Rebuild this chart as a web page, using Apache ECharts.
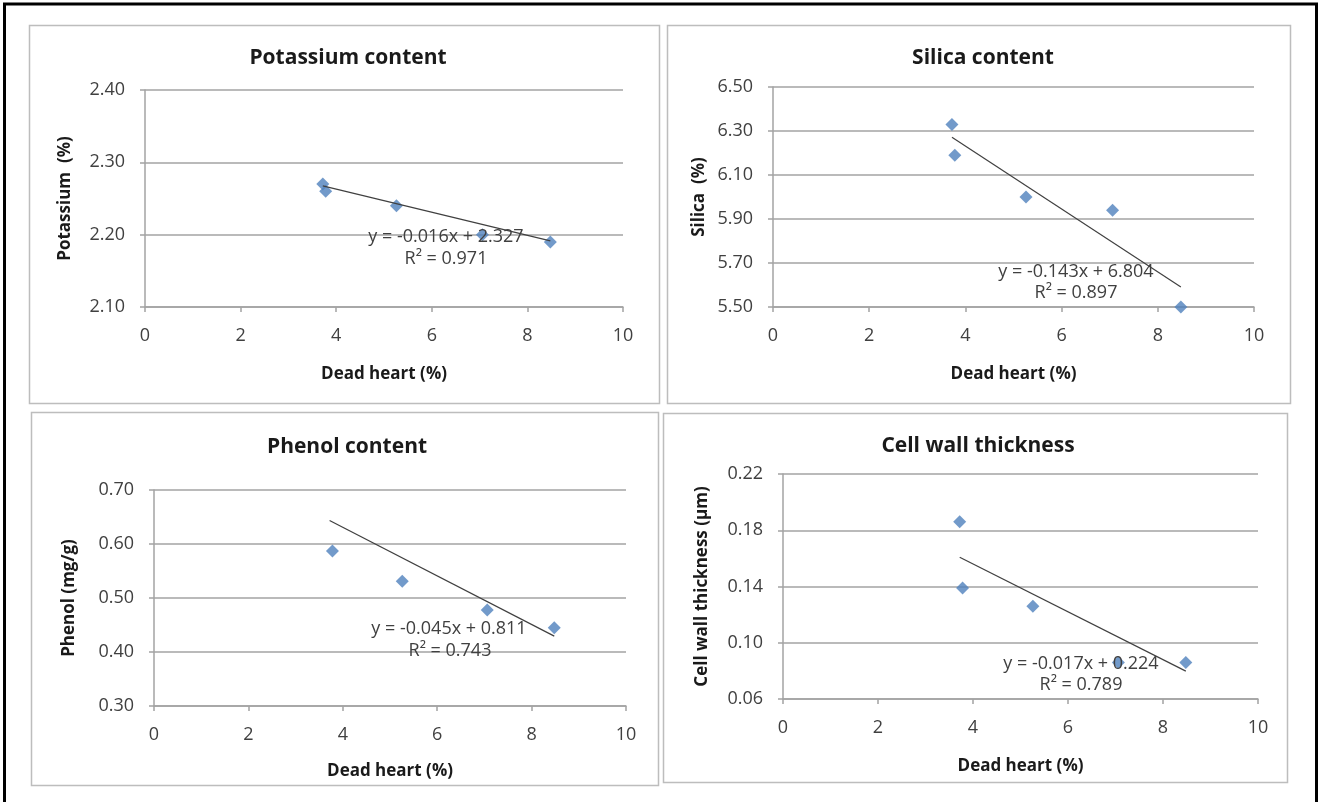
<!DOCTYPE html>
<html>
<head>
<meta charset="utf-8">
<script src="https://cdn.jsdelivr.net/npm/echarts@6/dist/echarts.min.js"></script>
<style>
html,body{margin:0;padding:0;background:#fff;}
#chart{width:1320px;height:802px;}
</style>
</head>
<body>
<div id="chart"></div>
<script>
// ---- data ----
const deadHeart = [3.72, 3.78, 5.26, 7.06, 8.48];
const potassium = [2.27, 2.26, 2.24, 2.20, 2.19];
const silica = [6.33, 6.19, 6.00, 5.94, 5.50];
const phenolX = [3.78, 5.26, 7.06, 8.48];
const phenol = [0.587, 0.531, 0.478, 0.445];
const cellWall = [0.186, 0.139, 0.126, 0.086, 0.086];

const titles = ['Potassium content', 'Silica content', 'Phenol content', 'Cell wall thickness'];
const yNames = ['Potassium  (%)', 'Silica  (%)', 'Phenol (mg/g)', 'Cell wall thickness (\u00b5m)'];
const xName = 'Dead heart (%)';
const slopes = [-0.016, -0.143, -0.045, -0.017];
const intercepts = [2.327, 6.804, 0.811, 0.224];
const r2 = ['0.971', '0.897', '0.743', '0.789'];
const eqText = ['y = -0.016x + 2.327', 'y = -0.143x + 6.804', 'y = -0.045x + 0.811', 'y = -0.017x + 0.224'];
const yMin = [2.10, 5.50, 0.30, 0.06];
const yMax = [2.40, 6.50, 0.70, 0.22];
const yStep = [0.10, 0.20, 0.10, 0.04];
const xMin = 0, xMax = 10, xStep = 2;

// ---- layout ----
const FONT = 'Open Sans';
const layout = [
  {box:[29,25,630,378], grid:{left:145,top:90,width:478,height:217}, title:[343,53], eq:[446,237], r2:[446,259], yGap:71, xGap:59},
  {box:[667,25,623,378], grid:{left:773,top:87,width:481,height:220}, title:[978,53], eq:[1076,272], r2:[1076,293], yGap:65, xGap:59},
  {box:[31,412,627,373], grid:{left:154,top:490,width:472,height:216}, title:[342,442], eq:[449,629], r2:[450,651], yGap:76, xGap:57},
  {box:[663,413,624,369], grid:{left:783,top:474,width:475,height:225}, title:[973,441], eq:[1081,664], r2:[1081,685], yGap:72, xGap:59}
];

const xsList = [deadHeart, deadHeart, phenolX, deadHeart];
const ysList = [potassium, silica, phenol, cellWall];
const trendX = [Math.min(...deadHeart), Math.max(...deadHeart)];

const grids = [], xAxes = [], yAxes = [], series = [], titleOpts = [], graphics = [];
const axisColor = '#a3a3a3';

// outer black frame
graphics.push({type:'rect', z:-20, shape:{x:4.5,y:4,width:1312,height:820}, style:{fill:'#fff', stroke:'#000', lineWidth:3}});

layout.forEach((L, i) => {
  graphics.push({type:'rect', z:-10, shape:{x:L.box[0]+0.5,y:L.box[1]+0.5,width:L.box[2],height:L.box[3]}, style:{fill:'#fff', stroke:'#bdbdbd', lineWidth:1.5}});
  grids.push(Object.assign({containLabel:false}, L.grid));
  titleOpts.push({text:titles[i], left:L.title[0], top:L.title[1], textAlign:'center', textVerticalAlign:'middle',
    textStyle:{fontFamily:FONT, fontWeight:'bold', fontSize:21, color:'#1a1a1a'}});
  xAxes.push({type:'value', gridIndex:i, min:xMin, max:xMax, interval:xStep,
    name:xName, nameLocation:'middle', nameGap:L.xGap,
    nameTextStyle:{fontFamily:FONT, fontWeight:'bold', fontSize:17, color:'#1a1a1a'},
    axisLine:{show:true, lineStyle:{color:axisColor, width:1.5}},
    axisTick:{show:true, inside:false, length:5, lineStyle:{color:axisColor, width:1.5}},
    axisLabel:{fontFamily:FONT, fontSize:18, color:'#404040', margin:20},
    splitLine:{show:false}});
  yAxes.push({type:'value', gridIndex:i, min:yMin[i], max:yMax[i], interval:yStep[i],
    name:yNames[i], nameLocation:'middle', nameGap:L.yGap, nameRotate:90,
    nameTextStyle:{fontFamily:FONT, fontWeight:'bold', fontSize:17, color:'#1a1a1a'},
    axisLine:{show:true, lineStyle:{color:axisColor, width:1.5}},
    axisTick:{show:true, inside:false, length:5, lineStyle:{color:axisColor, width:1.5}},
    axisLabel:{fontFamily:FONT, fontSize:18, color:'#404040', margin:20, formatter:v => v.toFixed(2)},
    splitLine:{show:true, lineStyle:{color:axisColor, width:1.5}}});
  series.push({type:'scatter', xAxisIndex:i, yAxisIndex:i, symbol:'diamond', symbolSize:13,
    itemStyle:{color:'#4f81bd'}, z:3,
    data: xsList[i].map((x, k) => [x, ysList[i][k]])});
  series.push({type:'line', xAxisIndex:i, yAxisIndex:i, symbol:'none', z:4, silent:true,
    lineStyle:{color:'#404040', width:1.2},
    data: trendX.map(x => [x, slopes[i]*x + intercepts[i]])});
  graphics.push({type:'text', z:10, x:L.eq[0], y:L.eq[1], style:{text:eqText[i], fontFamily:FONT, fontSize:18, fill:'#404040', align:'center', verticalAlign:'middle'}});
  graphics.push({type:'text', z:10, x:L.r2[0], y:L.r2[1], style:{text:'R\u00b2 = ' + r2[i], fontFamily:FONT, fontSize:18, fill:'#404040', align:'center', verticalAlign:'middle'}});
});

const chart = echarts.init(document.getElementById('chart'), null, {renderer:'canvas'});
chart.setOption({
  animation:false,
  backgroundColor:'#fff',
  title:titleOpts,
  grid:grids, xAxis:xAxes, yAxis:yAxes, series:series,
  graphic:{elements:graphics}
});
</script>
</body>
</html>
